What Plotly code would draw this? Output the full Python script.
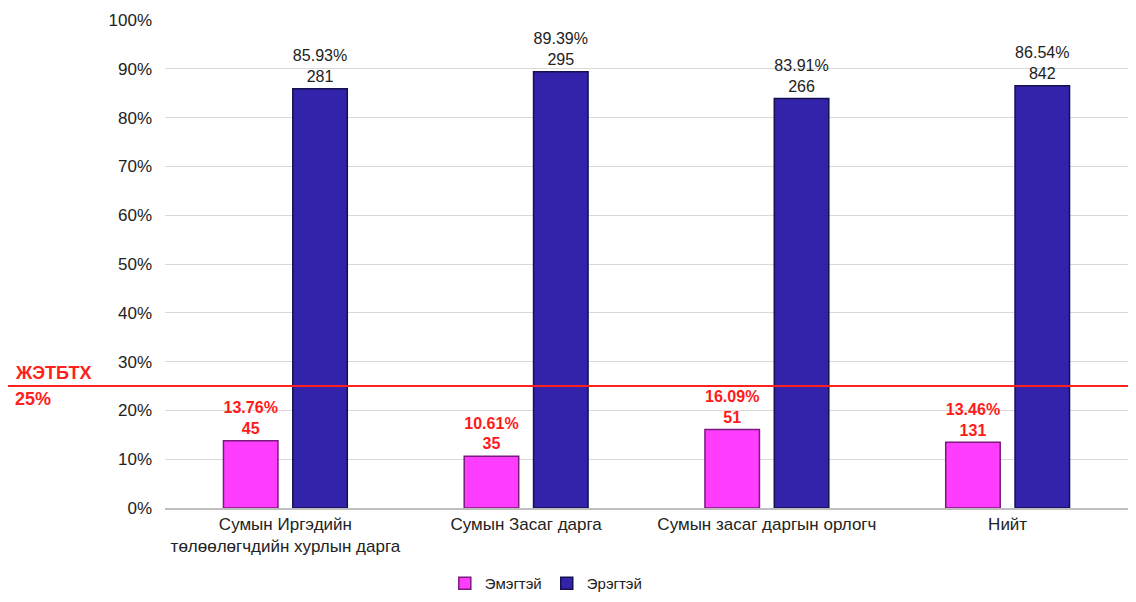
import plotly.graph_objects as go

categories = [
    "Сумын Иргэдийн<br>төлөөлөгчдийн хурлын дарга",
    "Сумын Засаг дарга",
    "Сумын засаг даргын орлогч",
    "Нийт",
]
female_pct = [13.76, 10.61, 16.09, 13.46]
female_cnt = [45, 35, 51, 131]
male_pct = [85.93, 89.39, 83.91, 86.54]
male_cnt = [281, 295, 266, 842]
threshold = 25
threshold_label = "ЖЭТБТХ"

FONT = "Liberation Sans, Arial, sans-serif"
PINK = "#FF3DFF"
BLUE = "#3322AA"

fig = go.Figure()

fig.add_trace(go.Bar(
    x=categories,
    y=female_pct,
    name="Эмэгтэй",
    marker=dict(color=PINK, line=dict(color="#7A1A7A", width=1.5)),
    text=[f"<b>{p:.2f}%<br>{c}</b>" for p, c in zip(female_pct, female_cnt)],
    textposition="outside",
    textfont=dict(color="#FF1A1A", size=17, family=FONT),
    cliponaxis=False,
))

fig.add_trace(go.Bar(
    x=categories,
    y=male_pct,
    name="Эрэгтэй",
    marker=dict(color=BLUE, line=dict(color="#15104F", width=1.5)),
    text=[f"{p:.2f}%<br>{c}" for p, c in zip(male_pct, male_cnt)],
    textposition="outside",
    textfont=dict(color="#222222", size=18, family=FONT),
    cliponaxis=False,
))

# threshold line across the whole width
fig.add_shape(
    type="line", xref="paper", yref="y",
    x0=-0.2, x1=1, y0=threshold, y1=threshold,
    line=dict(color="#FF2020", width=2),
)
fig.add_annotation(
    xref="paper", yref="y", x=-0.158, y=threshold,
    text=f"<b>{threshold_label}</b>", showarrow=False,
    xanchor="left", yanchor="bottom", yshift=1,
    font=dict(color="#FF2020", size=18, family=FONT),
)
fig.add_annotation(
    xref="paper", yref="y", x=-0.158, y=threshold,
    text=f"<b>{threshold}%</b>", showarrow=False,
    xanchor="left", yanchor="top", yshift=-1,
    font=dict(color="#FF2020", size=18, family=FONT),
)

fig.update_layout(
    width=1120, height=586,
    margin=dict(l=157, r=0, t=12, b=86),
    paper_bgcolor="white", plot_bgcolor="white",
    font=dict(family=FONT, size=16, color="#222222"),
    barmode="group",
    bargap=0.424,
    bargroupgap=0.214,
    legend=dict(
        orientation="h",
        xref="container", x=0.39, xanchor="left",
        yref="container", y=0.018, yanchor="middle",
        font=dict(size=15, family=FONT),
        itemwidth=30,
        bgcolor="rgba(0,0,0,0)",
    ),
)
fig.update_yaxes(
    range=[0, 100], dtick=10, ticksuffix="%",
    showgrid=True, gridcolor="#D9D9D9", gridwidth=1,
    zeroline=False, ticks="", tickfont=dict(size=17),
    ticklabelstandoff=12, automargin=False,
)
fig.update_xaxes(
    showline=True, linecolor="#BFBFBF", linewidth=1.5,
    ticks="", tickfont=dict(size=17), automargin=False,
)

fig.write_html("out.html")
